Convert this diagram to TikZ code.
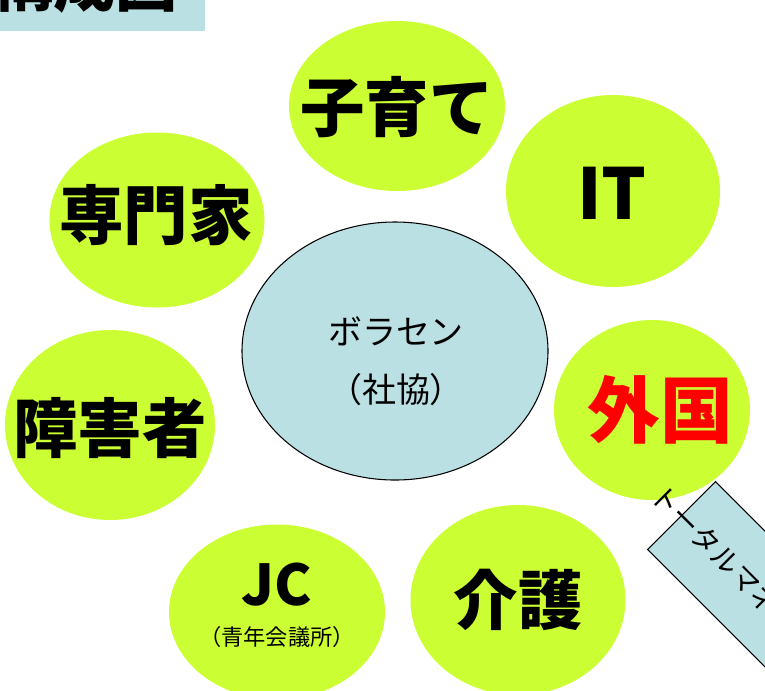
\documentclass[tikz,border=0pt]{standalone}
\usepackage{fontspec}
\setmainfont{Noto Sans CJK JP}
\usetikzlibrary{shapes.geometric, positioning}
\definecolor{lime}{RGB}{204,255,51}
\definecolor{paleblue}{RGB}{187,224,227}

\begin{document}
\begin{tikzpicture}[x=0.03cm, y=-0.03cm,
    field/.style={ellipse, fill=lime, inner sep=0pt},
    hub/.style={ellipse, draw=black, fill=paleblue, line width=0.9pt, inner sep=0pt},
    tagbox/.style={rectangle, draw=black, fill=paleblue, line width=0.9pt, inner sep=0pt},
    bigword/.style={inner sep=0pt, font=\bfseries\fontsize{55}{60}\selectfont} ]

    \clip (0,0) rectangle (765,690);

    %Title
    \node[fill=paleblue, anchor=north west, inner sep=0pt, minimum width=6.15cm, minimum height=0.93cm] (titlebar) at (0,0) {};
    \node[anchor=base east, inner sep=0pt, font=\bfseries\fontsize{53}{60}\selectfont] (titletext) at (178,6) {構成図};

    %Fields
    \node[field, minimum width=6.48cm, minimum height=5.1cm] (kosodate) at (397,106) {};
    \node[field, minimum width=6.42cm, minimum height=5.76cm] (it) at (613,191) {};
    \node[field, minimum width=6.45cm, minimum height=5.25cm] (senmonka) at (157,220) {};
    \node[field, minimum width=6.3cm, minimum height=5.7cm] (shogai) at (110,425) {};
    \node[field, minimum width=5.88cm, minimum height=5.4cm] (gaikoku) at (652,410) {};
    \node[field, minimum width=6.48cm, minimum height=5.25cm] (jc) at (277,612) {};
    \node[field, minimum width=6.45cm, minimum height=5.7cm] (kaigo) at (518,600) {};

    %Center
    \node[hub, minimum width=9.18cm, minimum height=7.74cm] (volcen) at (395,351) {};

    %Texts
    \node[bigword] (kosodate_t) at (397,107) {子育て};
    \node[bigword, font=\bfseries\fontsize{60}{60}\selectfont] (it_t) at (612,193) {IT};
    \node[bigword] (senmonka_t) at (156,215) {専門家};
    \node[bigword] (shogai_t) at (110,428) {障害者};
    \node[bigword, text=red, font=\bfseries\fontsize{62}{62}\selectfont] (gaikoku_t) at (660,410) {外国};
    \node[bigword, font=\bfseries\fontsize{48}{48}\selectfont] (jc_t) at (277,585) {JC};
    \node[inner sep=0pt, font=\fontsize{19}{19}\selectfont] (jc_sub) at (277,637) {（青年会議所）};
    \node[bigword] (kaigo_t) at (518,600) {介護};
    \node[inner sep=0pt, align=center, font=\fontsize{29}{50}\selectfont] (volcen_t) at (396,361) {ボラセン\\（社協）};

    %Total management tag
    \node[tagbox, rotate=-45, minimum width=7.5cm, minimum height=2.88cm] (totalbox) at (770,604) {};
    \node[rotate=-45, anchor=west, inner sep=0pt, font=\fontsize{24}{24}\selectfont] (totaltext) at (656,490) {トータルマネジメント};
\end{tikzpicture}
\end{document}
